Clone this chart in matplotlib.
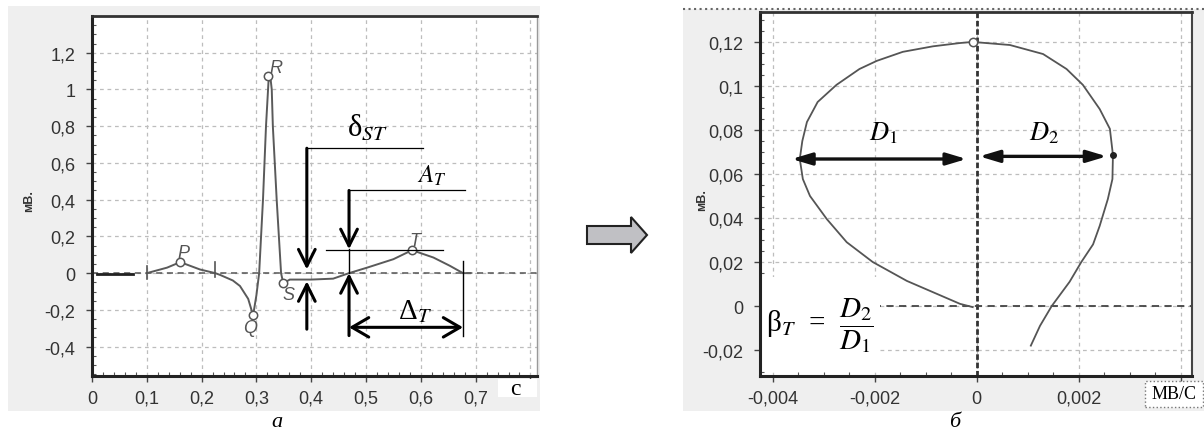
import matplotlib
matplotlib.use('Agg')
import matplotlib.pyplot as plt
import numpy as np
from matplotlib.ticker import FuncFormatter, MultipleLocator
from matplotlib.patches import Rectangle, Polygon
from matplotlib.lines import Line2D

plt.rcParams['font.family'] = ['Liberation Sans', 'DejaVu Sans']
plt.rcParams['mathtext.fontset'] = 'stix'

# --- ECG (panel a): time, s / voltage, mV
base_t = [0.010, 0.075]
base_v = [-0.004, -0.004]
ecg_t = [0.100, 0.137, 0.161, 0.197, 0.225, 0.234, 0.257, 0.270, 0.285, 0.294,
         0.300, 0.305, 0.312, 0.3175, 0.322, 0.325, 0.328, 0.330, 0.337, 0.345,
         0.349, 0.361, 0.400, 0.440, 0.469, 0.502, 0.550, 0.584,
         0.623, 0.653, 0.677, 0.690]
ecg_v = [0.000, 0.030, 0.060, 0.020, 0.000, -0.010, -0.040, -0.070, -0.140, -0.230,
         -0.120, 0.000, 0.400, 0.800, 1.040, 1.080, 1.000, 0.800, 0.400, 0.000,
         -0.055, -0.035, -0.035, -0.030, 0.000, 0.030, 0.076, 0.125,
         0.085, 0.040, 0.000, 0.000]
wave_names = ['P', 'Q', 'R', 'S', 'T']
wave_t = [0.161, 0.294, 0.322, 0.349, 0.584]
wave_v = [0.060, -0.229, 1.075, -0.055, 0.125]
wave_label_pos = [(0.166, 0.11), (0.288, -0.295), (0.336, 1.12), (0.358, -0.115), (0.59, 0.18)]

# --- T-loop (panel б): dV/dt, mV/s / V, mV
loop_x = [-0.00008, -0.00033, -0.00078, -0.00137, -0.00204, -0.00255, -0.00294, -0.00327,
          -0.00341, -0.00347, -0.00342, -0.00333, -0.00312, -0.00275, -0.0023, -0.00196,
          -0.00145, -0.00086, -0.00033, -0.00008, 0.00065, 0.0013, 0.00176, 0.00208,
          0.00241, 0.00261, 0.00267, 0.00266, 0.00257, 0.00241, 0.00228, 0.00205,
          0.00182, 0.00147, 0.00124, 0.00106]
loop_y = [-0.0005, 0.001, 0.0055, 0.0114, 0.020, 0.029, 0.0395, 0.050,
          0.0577, 0.0668, 0.075, 0.0836, 0.0927, 0.1005, 0.1077, 0.1114,
          0.1155, 0.118, 0.1195, 0.120, 0.1186, 0.1145, 0.1077, 0.1005,
          0.0895, 0.0805, 0.0686, 0.0577, 0.0486, 0.0364, 0.028, 0.020,
          0.011, 0.000, -0.009, -0.018]
top_pt = (-0.00008, 0.120)
right_pt = (0.00267, 0.0686)
left_pt = (-0.00363, 0.0668)

W, H = 1204, 435
def fx(px):
    return px / W
def fy(py):
    return 1 - py / H

def comma_until(limit):
    def fmt(v, pos):
        if v > limit:
            return ''
        s = f"{round(v, 6):g}"
        if s == '-0':
            s = '0'
        return s.replace('.', ',')
    return FuncFormatter(fmt)

fig = plt.figure(figsize=(12.04, 4.35), dpi=100)
fig.patch.set_facecolor('white')

# grey panel backgrounds
for x0, y0, x1, y1 in [(8, 7, 540, 412), (683, 10, 1204, 412)]:
    fig.add_artist(Rectangle((fx(x0), fy(y1)), fx(x1) - fx(x0), fy(y0) - fy(y1),
                             transform=fig.transFigure, facecolor='#efefef',
                             edgecolor='none', zorder=-1))
fig.add_artist(Line2D([fx(683), 1], [fy(10), fy(10)], transform=fig.transFigure,
                      color='#666', lw=1.5, ls=':', zorder=-0.5))

ax1 = fig.add_axes([fx(92), fy(377), (537 - 92) / W, (377 - 17) / H])
ax2 = fig.add_axes([fx(760), fy(377), (1192 - 760) / W, (377 - 13) / H])

for ax in (ax1, ax2):
    ax.set_facecolor('white')
    ax.grid(True, which='major', ls=(0, (3, 3)), color='#bdbdbd', lw=0.9)
    ax.set_axisbelow(True)
    ax.tick_params(which='major', direction='out', length=4, width=1, color='#444',
                   labelsize=13, labelcolor='#333')
    ax.tick_params(axis='y', which='major', pad=8)
    ax.tick_params(axis='x', which='major', pad=6)
    ax.tick_params(which='minor', direction='in', length=3, width=0.8, color='#555')
    for side in ('left', 'bottom'):
        ax.spines[side].set(lw=2.2, color='#222')
    ax.spines['top'].set(lw=2, color='#333')

ax1.spines['right'].set(lw=1, color='#999')
ax2.spines['right'].set(lw=1.5, color='#444')

# ---- panel a
ax1.set_xlim(0, 0.812)
ax1.set_ylim(-0.56, 1.40)
ax1.set_xticks(np.arange(0, 0.81, 0.1))
ax1.set_yticks(np.arange(-0.4, 1.21, 0.2))
ax1.xaxis.set_major_formatter(comma_until(0.75))   # 0,8 is hidden under the unit box
ax1.yaxis.set_major_formatter(comma_until(2))
ax1.xaxis.set_minor_locator(MultipleLocator(0.02))
ax1.yaxis.set_minor_locator(MultipleLocator(0.05))
ax1.axhline(0, color='#555', ls=(0, (4, 3)), lw=1.1)
ax1.plot(base_t, base_v, color='#222', lw=2)
ax1.plot(ecg_t, ecg_v, color='#5a5a5a', lw=1.4)
ax1.plot(wave_t, wave_v, 'o', mfc='white', mec='#555', ms=6, mew=1.1)
for name, (x, y) in zip(wave_names, wave_label_pos):
    ax1.text(x, y, name, style='italic', fontsize=13, color='#555', ha='center', va='center')
for x, y0, y1 in [(0.1, -0.03, 0.04), (0.225, -0.02, 0.06)]:
    ax1.plot([x, x], [y0, y1], color='#555', lw=1.2)

ax1.set_ylabel('мВ.', fontsize=9, fontweight='bold', color='#333')
ax1.yaxis.set_label_coords(-0.128, 0.49)

ah = dict(arrowstyle='->,head_length=0.6,head_width=0.3', lw=2.2, color='k',
          mutation_scale=20, shrinkA=0, shrinkB=0)
serif = 'Liberation Serif'
# delta_ST
ax1.plot([0.392, 0.604], [0.68, 0.68], color='k', lw=0.9)
ax1.annotate('', xy=(0.392, 0.02), xytext=(0.392, 0.68), arrowprops=ah)
ax1.annotate('', xy=(0.392, -0.044), xytext=(0.392, -0.305), arrowprops=ah)
ax1.text(0.503, 0.795, 'δ$_{ST}$', family=serif, fontsize=22, ha='center', va='center')
# A_T
ax1.plot([0.469, 0.68], [0.45, 0.45], color='k', lw=0.9)
ax1.plot([0.427, 0.64], [0.125, 0.125], color='k', lw=0.9)
ax1.annotate('', xy=(0.469, 0.13), xytext=(0.469, 0.45), arrowprops=ah)
ax1.plot([0.469, 0.469], [0.13, 0.0], color='k', lw=1)
ax1.annotate('', xy=(0.469, 0.0), xytext=(0.469, -0.34), arrowprops=ah)
ax1.text(0.62, 0.535, '$A_T$', fontsize=18, ha='center', va='center')
# Delta_T
ax1.plot([0.677, 0.677], [0.065, -0.34], color='k', lw=1)
ah2 = dict(ah, arrowstyle='<->,head_length=0.6,head_width=0.35')
ax1.annotate('', xy=(0.677, -0.295), xytext=(0.469, -0.295), arrowprops=ah2)
ax1.text(0.59, -0.205, 'Δ$_T$', family=serif, fontsize=21, ha='center', va='center')

# ---- panel б
ax2.set_xlim(-0.00425, 0.00422)
ax2.set_ylim(-0.0318, 0.1336)
ax2.set_xticks(np.linspace(-0.004, 0.004, 5))
ax2.set_yticks(np.linspace(-0.02, 0.12, 8))
ax2.xaxis.set_major_formatter(comma_until(0.003))  # 0,004 is hidden under the unit box
ax2.yaxis.set_major_formatter(comma_until(1))
ax2.xaxis.set_minor_locator(MultipleLocator(0.0005))
ax2.yaxis.set_minor_locator(MultipleLocator(0.005))
ax2.axvline(0, color='#333', lw=2, ls=(0, (2, 1)))
ax2.axhline(0, color='#444', lw=1.3, ls=(0, (4, 3)))
ax2.plot(loop_x, loop_y, color='#555', lw=1.3)
ax2.plot(*top_pt, 'o', mfc='white', mec='#555', ms=6, mew=1.1)
ax2.plot(*right_pt, 'o', color='#222', ms=4)

ax2.set_ylabel('мВ.', fontsize=9, fontweight='bold', color='#333')
ax2.yaxis.set_label_coords(-0.12, 0.486)

fh = dict(arrowstyle='<|-|>,head_length=0.6,head_width=0.18', lw=2.4, color='#111',
          mutation_scale=20, shrinkA=0, shrinkB=0)
ax2.annotate('', xy=(-0.0002, left_pt[1]), xytext=left_pt, arrowprops=fh)
ax2.annotate('', xy=(0.00005, right_pt[1] - 0.0006), xytext=(0.00255, right_pt[1] - 0.0006),
             arrowprops=fh)
ax2.text(-0.00184, 0.079, '$D_1$', fontsize=19, ha='center', va='center')
ax2.text(0.00131, 0.079, '$D_2$', fontsize=19, ha='center', va='center')
ax2.add_patch(Rectangle((0, 0.014), 0.278, 0.258, transform=ax2.transAxes,
                        facecolor='white', edgecolor='none', zorder=2.5))
ax2.text(-0.00308, -0.0086, 'β$_T$  =  $\\dfrac{D_2}{D_1}$', family=serif, fontsize=21,
         ha='center', va='center', zorder=3)

# ---- figure-level decorations
fig.add_artist(Polygon([(fx(587), fy(227)), (fx(631), fy(227)), (fx(631), fy(218)),
                        (fx(647), fy(236)), (fx(631), fy(254)), (fx(631), fy(245)),
                        (fx(587), fy(245))], closed=True, transform=fig.transFigure,
                       facecolor='#c0c0c4', edgecolor='#222', lw=1.5))

fig.add_artist(Rectangle((fx(498), fy(398)), fx(537) - fx(498), fy(380) - fy(398),
                         transform=fig.transFigure, facecolor='white', edgecolor='none', zorder=5))
fig.text(fx(515), fy(390), 'с', family=serif, fontsize=17, ha='center', va='center', zorder=6)
fig.add_artist(Rectangle((fx(1145), fy(408)), fx(1203) - fx(1145), fy(382) - fy(408),
                         transform=fig.transFigure, facecolor='white', edgecolor='#777',
                         ls=':', lw=1, zorder=5))
fig.text(fx(1174), fy(395), 'МВ/С', family=serif, fontsize=13, ha='center', va='center', zorder=6)

fig.text(fx(277), fy(423), 'а', family=serif, style='italic', fontsize=16, ha='center', va='center')
fig.text(fx(955), fy(423), 'б', family=serif, style='italic', fontsize=16, ha='center', va='center')

fig.savefig('out.png', dpi=100, facecolor='white')
